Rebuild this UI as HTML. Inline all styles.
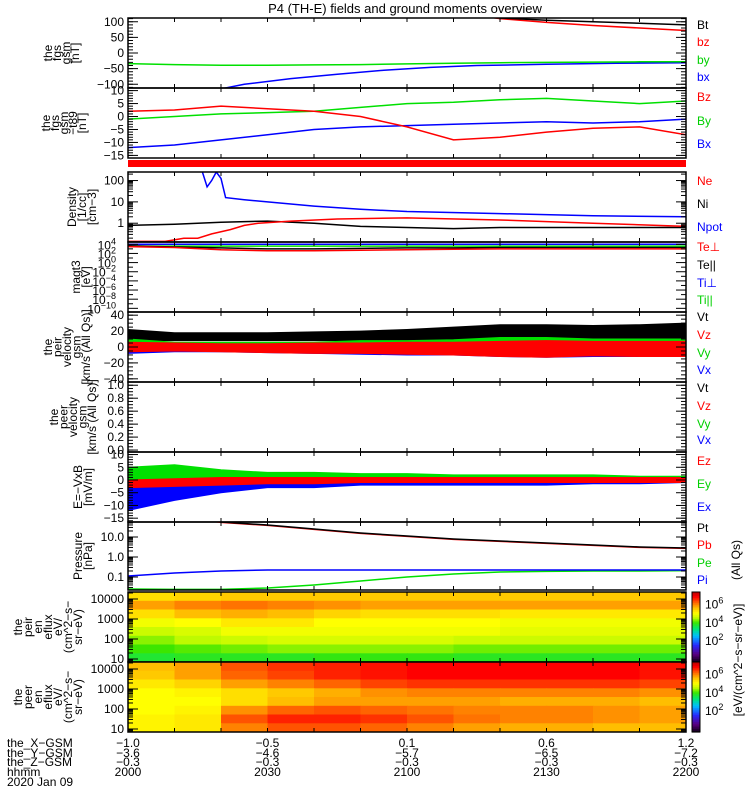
<!DOCTYPE html>
<html><head><meta charset="utf-8"><style>
body{margin:0;background:#fff}
svg{display:block;font-family:"Liberation Sans",sans-serif}
text{font-size:12px}
</style></head><body>
<svg id="chart" width="750" height="800" viewBox="0 0 750 800">
<rect x="0" y="0" width="750" height="800" fill="#fff"/>
<text x="405" y="13" text-anchor="middle" style="font-size:13px">P4 (TH-E) fields and ground moments overview</text>
<g id="layer"></g>
</svg>
<script>
// ---------- data ----------
const T10=[0,10,20,30,40,50,60,70,80,90,100,110,120];
// panel 1 fgs gsm
const bxT=[20,25,35,45,55,65,75,90,105,120];
const bxV=[-115,-100,-82,-68,-55,-46,-40,-36,-33,-31];
const byV=[-34,-37,-39,-39,-38,-37,-35,-33,-31,-30,-29,-28,-28];
const btT=[78,80,90,100,110,120];
const btV=[118,112,105,100,95,90];
const bzT=[76,80,90,100,110,120];
const bzV=[118,110,98,88,80,72];
// panel 2 fgs gsm - t89
const dBz=[2,2.5,4,3,2,0,-4,-9,-8,-6,-4.5,-4,-7];
const dBy=[-1,0,1,1.5,2,3.5,5,5.5,6.5,7,6,5,6];
const dBx=[-12,-11,-9,-7,-5,-4,-3.5,-3,-2.5,-2,-2.5,-2,-1];
// panel 4 density (log10)
const niV=[-0.1,-0.05,0.05,0.1,0,-0.15,-0.2,-0.25,-0.2,-0.2,-0.2,-0.2,-0.2];
const neT=[0,8,12,15,18,22,25,28,35,45,60,80,100,120];
const neV=[-0.85,-0.85,-0.7,-0.7,-0.5,-0.3,-0.1,0,0.1,0.2,0.25,0.15,0,-0.15];
const npT=[15,16,17,18,19,20,21,25,30,40,50,60,80,100,120];
const npV=[2.5,2.4,1.7,2.0,2.4,2.1,1.2,1.1,1.0,0.8,0.65,0.55,0.45,0.35,0.3];
// panel 5 temperatures (log10 eV)
const tePerp=[3.5,3.3,2.8,2.6,2.6,2.7,2.8,2.9,3.0,3.0,3.0,3.0,3.0];
const tePar=[3.7,3.4,3.2,3.0,3.0,3.1,3.2,3.2,3.3,3.3,3.3,3.3,3.3];
const tiPerp=[4.0,4.0,4.0,4.0,4.0,4.0,4.0,4.0,4.0,4.0,4.0,4.0,4.0];
const tiPar=[3.6,3.6,3.6,3.6,3.6,3.6,3.6,3.6,3.6,3.6,3.6,3.6,3.6];
// panel 6 peir velocity envelopes
const vtUp=[22,18,18,18,19,20,22,25,28,28,27,28,30], vtLo=[8,8,8,8,8,8,8,8,8,8,8,8,8];
const vxUp=[4,4,4,4,4,4,5,5,5,5,5,5,5], vxLo=[-8,-6,-6,-7,-8,-9,-10,-10,-12,-13,-12,-12,-12];
const vyUp=[10,6,6,6,6,8,8,9,12,12,10,10,10], vyLo=[-4,-4,-4,-5,-5,-5,-6,-6,-8,-8,-8,-8,-8];
const vzUp=[6,5,4,4,5,5,6,6,7,8,7,7,7], vzLo=[-6,-5,-6,-7,-8,-8,-9,-10,-12,-13,-11,-12,-12];
// panel 8 E = -VxB envelopes
const eyUp=[5,6,4,3,3,2.5,2.5,2,2,2,2,1.5,1.5], eyLo=[-1,-2,-1,-1,-1,-1,-1,-1,-1,-1,-1,-1,-1];
const exUp=[0,0,0,0,0,0.5,0.5,1,1,1,0.5,0.5,0.5], exLo=[-12,-8,-5,-3,-3,-2,-2,-2,-2,-2,-1.5,-1.5,-1];
const ezUp=[0,0.5,1,1,1,1,1,1,1,1,1,1,1], ezLo=[-3,-2.5,-2,-1.5,-1.5,-1,-1,-1,-1,-1,-1,-1,-1];
// panel 9 pressure (log10 nPa)
const ptT=[15,20,30,40,50,60,70,80,90,100,110,120];
const ptV=[1.9,1.75,1.6,1.4,1.2,1.05,0.9,0.8,0.7,0.6,0.5,0.45];
const pbV=[1.88,1.73,1.58,1.38,1.18,1.03,0.88,0.78,0.68,0.58,0.48,0.43];
const piV=[-0.95,-0.8,-0.7,-0.65,-0.65,-0.65,-0.65,-0.65,-0.65,-0.65,-0.65,-0.65,-0.65];
const peV=[-1.6,-1.62,-1.62,-1.55,-1.4,-1.2,-1.0,-0.85,-0.75,-0.72,-0.7,-0.7,-0.68];
// spectrograms: rows high energy -> low, 12 ten-minute columns, log10 eflux
const peirGrid=[
[5.3,5.4,5.5,5.5,5.5,5.5,5.5,5.5,5.5,5.5,5.5,5.5],
[5.8,6.0,6.1,6.0,5.9,5.8,5.8,5.8,5.8,5.8,5.8,5.8],
[5.3,5.6,5.7,5.6,5.4,5.3,5.3,5.3,5.2,5.2,5.2,5.2],
[4.9,5.0,5.2,5.2,5.0,5.0,5.0,5.0,4.9,4.9,4.9,4.9],
[4.6,4.7,4.9,4.9,4.9,4.9,4.9,4.9,4.8,4.8,4.8,4.8],
[4.3,4.5,4.6,4.7,4.7,4.7,4.7,4.6,4.6,4.6,4.6,4.6],
[4.0,4.1,4.2,4.3,4.3,4.3,4.3,4.2,4.2,4.2,4.2,4.2],
[3.7,3.8,3.8,3.8,3.9,3.9,3.9,3.8,3.8,3.8,3.8,3.8]];
const peerGrid=[
[5.6,5.8,6.3,6.5,6.6,6.7,6.8,6.8,6.8,6.8,6.8,6.7],
[5.5,5.8,6.2,6.4,6.6,6.7,6.8,6.8,6.8,6.8,6.8,6.7],
[5.2,5.4,5.8,6.0,6.2,6.4,6.5,6.5,6.5,6.5,6.5,6.4],
[5.0,5.1,5.3,5.5,5.7,5.9,6.0,6.0,6.0,6.0,6.0,5.9],
[5.0,5.0,5.3,5.6,5.8,5.8,5.8,5.8,5.7,5.7,5.7,5.6],
[5.0,5.1,5.9,6.2,6.3,6.2,6.1,6.0,6.0,6.0,5.9,5.8],
[5.1,5.2,6.3,6.6,6.6,6.5,6.3,6.1,6.0,6.0,5.9,5.8],
[5.1,5.2,6.0,6.3,6.3,6.2,6.0,5.8,5.7,5.7,5.6,5.6]];
// x-axis labels
const xTicks=[0,30,60,90,120];
const xRowX=["-1.0","-0.5","0.1","0.6","1.2"];
const xRowY=["-3.6","-4.6","-5.7","-6.5","-7.2"];
const xRowZ=["-0.3","-0.3","-0.3","-0.3","-0.3"];
const xRowH=["2000","2030","2100","2130","2200"];

// ---------- rendering ----------
const NS="http://www.w3.org/2000/svg";
const L=document.getElementById('layer');
const X0=128,X1=686;
const sx=t=>X0+t/120*(X1-X0);
function mk(tag,attrs,parent){const e=document.createElementNS(NS,tag);for(const k in attrs)e.setAttribute(k,attrs[k]);(parent||L).appendChild(e);return e;}
function txt(x,y,s,fill,anchor,parent,size){const e=mk('text',{x:x,y:y,fill:fill||'#000','text-anchor':anchor||'start'},parent);if(size)e.style.fontSize=size+'px';e.textContent=s;return e;}
let clipN=0;
function panel(name,y0,y1,d0,d1){
  const g=mk('g',{});
  
  
  const id='c'+(clipN++);
  const cp=mk('clipPath',{id:id},g);mk('rect',{x:X0,y:y0,width:X1-X0,height:y1-y0},cp);
  const plot=mk('g',{'clip-path':'url(#'+id+')'},g);
  const sy=v=>y1-(v-d0)/(d1-d0)*(y1-y0);
  return {g,plot,sy,y0,y1};
}
function frame(P){
  const r=mk('rect',{x:X0,y:P.y0,width:X1-X0,height:P.y1-P.y0,fill:'none',stroke:'#000','stroke-width':1.5},P.g);
  
  
  for(let t=10;t<120;t+=10){
    mk('line',{x1:sx(t),x2:sx(t),y1:P.y0,y2:P.y0+4,stroke:'#000'},P.g);
    mk('line',{x1:sx(t),x2:sx(t),y1:P.y1,y2:P.y1-4,stroke:'#000'},P.g);
  }
}
function yTicks(P,majors,labels,minors){
  majors.forEach((v,i)=>{const y=P.sy(v);
    mk('line',{x1:X0,x2:X0+10,y1:y,y2:y,stroke:'#000'},P.g);
    mk('line',{x1:X1,x2:X1-10,y1:y,y2:y,stroke:'#000'},P.g);
    const t=txt(X0-4,y+4,labels[i],'#000','end',P.g);
    
    
  });
  (minors||[]).forEach(v=>{const y=P.sy(v);if(y<P.y0||y>P.y1)return;
    mk('line',{x1:X0,x2:X0+5,y1:y,y2:y,stroke:'#000'},P.g);
    mk('line',{x1:X1,x2:X1-5,y1:y,y2:y,stroke:'#000'},P.g);});
}
function logMinors(a,b){const r=[];for(let d=a;d<b;d++)for(let k=2;k<10;k++)r.push(d+Math.log10(k));return r;}
function linMinors(a,b,s){const r=[];for(let v=a;v<=b+1e-9;v+=s)r.push(v);return r;}
function line(P,ts,vs,col,name){
  const pts=ts.map((t,i)=>sx(t).toFixed(1)+','+P.sy(vs[i]).toFixed(1)).join(' ');
  const e=mk('polyline',{points:pts,fill:'none',stroke:col,'stroke-width':1.5},P.plot);
  
  
}
function band(P,ts,up,lo,col,name){
  let pts=ts.map((t,i)=>sx(t).toFixed(1)+','+P.sy(up[i]).toFixed(1));
  for(let i=ts.length-1;i>=0;i--)pts.push(sx(ts[i]).toFixed(1)+','+P.sy(lo[i]).toFixed(1));
  const e=mk('polygon',{points:pts.join(' '),fill:col,stroke:col,'stroke-width':1},P.plot);
  
  
}
function ylabel(lines,x0,dx,yc,size){
  lines.forEach((s,i)=>{const x=x0+i*dx;
    const t=mk('text',{x:0,y:0,'text-anchor':'middle',transform:'translate('+x+','+yc+') rotate(-90)'});
    t.style.fontSize=(size||12)+'px';t.textContent=s;
    
    });
}
function legend(items){
  items.forEach(([s,c,y])=>{const t=txt(697,y+4,s,c,'start');
    
    });
}
// colormap
const cStops=[[-0.5,[0,0,0]],[0.5,[90,0,130]],[1.5,[40,40,255]],[2.5,[0,190,255]],[3.3,[0,230,120]],[4.0,[60,230,0]],[4.5,[190,250,0]],[5.0,[255,255,0]],[5.6,[255,190,0]],[6.2,[255,100,0]],[6.8,[255,0,0]],[7.4,[180,0,0]]];
function cmap(v){if(v<=cStops[0][0])return 'rgb(0,0,0)';
  for(let i=1;i<cStops.length;i++){if(v<=cStops[i][0]){const a=cStops[i-1],b=cStops[i],f=(v-a[0])/(b[0]-a[0]);
    return 'rgb('+a[1].map((c,k)=>Math.round(c+(b[1][k]-c)*f)).join(',')+')';}}
  return 'rgb(180,0,0)';}

// Panel 1
let P=panel('panel-fgs-gsm',18,88,-112,112);
line(P,bxT,bxV,'#0000ff','series-bx');
line(P,T10,byV,'#00e000','series-by');
line(P,bzT,bzV,'#ff0000','series-bz');
line(P,btT,btV,'#000','series-bt');
frame(P);yTicks(P,[100,50,0,-50,-100],['100','50','0','\u221250','\u2212100'],linMinors(-110,110,10));
ylabel(['the','fgs','gsm','[nT]'],52,9,53,12);
legend([['Bt','#000',25],['bz','#ff0000',42],['by','#00d000',60],['bx','#0000ff',77]]);

// Panel 2
P=panel('panel-fgs-gsm-t89',88,158,-16,11);
line(P,T10,dBx,'#0000ff','series-dbx');
line(P,T10,dBy,'#00e000','series-dby');
line(P,T10,dBz,'#ff0000','series-dbz');
frame(P);yTicks(P,[10,5,0,-5,-10,-15],['10','5','0','\u22125','\u221210','\u221215'],linMinors(-16,11,1));
ylabel(['the','fgs','gsm','\u2212t89','[nT]'],50,9,123,12);
legend([['Bz','#ff0000',97],['By','#00d000',121],['Bx','#0000ff',144]]);

// red bar
{const e=mk('rect',{x:X0,y:160,width:X1-X0,height:7,fill:'#ff0000'});

}

// Panel 4 density
P=panel('panel-density',172,242,-0.88,2.4);
line(P,T10,niV,'#000','series-ni');
line(P,neT,neV,'#ff0000','series-ne');
line(P,npT,npV,'#0000ff','series-npot');
frame(P);yTicks(P,[2,1,0],['100','10','1'],logMinors(-1,2.4));
ylabel(['Density','[1/cc]','[cm\u22123]'],76,10,207,12);
legend([['Ne','#ff0000',181],['Ni','#000',204],['Npot','#0000ff',227]]);

// Panel 5 temperature
P=panel('panel-temperature',242,312,-10.8,4.5);
line(P,T10,tiPar,'#00e000','series-ti-par');
line(P,T10,tiPerp,'#0000ff','series-ti-perp');
line(P,T10,tePar,'#000','series-te-par');
line(P,T10,tePerp,'#ff0000','series-te-perp');
frame(P);
[4,2,0,-2,-4,-6,-8,-10].forEach(v=>{const y=P.sy(v);
  mk('line',{x1:X0,x2:X0+10,y1:y,y2:y,stroke:'#000'},P.g);mk('line',{x1:X1,x2:X1-10,y1:y,y2:y,stroke:'#000'},P.g);
  const t=mk('text',{x:X0-12,y:y+5,'text-anchor':'end'},P.g);t.innerHTML='10<tspan dy="-5" style="font-size:9px">'+(v<0?'\u2212'+(-v):v)+'</tspan>';
  
  });
[3,1,-1,-3,-5,-7,-9].forEach(v=>{const y=P.sy(v);mk('line',{x1:X0,x2:X0+5,y1:y,y2:y,stroke:'#000'},P.g);mk('line',{x1:X1,x2:X1-5,y1:y,y2:y,stroke:'#000'},P.g);});
ylabel(['magt3','[eV]'],80,10,277,12);
legend([['Te\u22a5','#ff0000',247],['Te||','#000',265],['Ti\u22a5','#0000ff',283],['Ti||','#00d000',300]]);

// Panel 6 peir velocity
P=panel('panel-peir-velocity',312,382,-44,44);
band(P,T10,vtUp,vtLo,'#000','series-vt');
band(P,T10,vxUp,vxLo,'#0000ff','series-vx');
band(P,T10,vyUp,vyLo,'#00e000','series-vy');
band(P,T10,vzUp,vzLo,'#ff0000','series-vz');
frame(P);yTicks(P,[40,20,0,-20,-40],['40','20','0','\u221220','\u221240'],linMinors(-40,40,5));
ylabel(['the','peir','velocity','gsm','[km/s (All Qs)]'],52,9.5,347,12);
legend([['Vt','#000',317],['Vz','#ff0000',335],['Vy','#00d000',353],['Vx','#0000ff',370]]);

// Panel 7 peer velocity (empty)
P=panel('panel-peer-velocity',382,452,-0.03,1.05);
frame(P);yTicks(P,[1,0.8,0.6,0.4,0.2,0],['1.0','0.8','0.6','0.4','0.2','0.0'],linMinors(0,1,0.05));
ylabel(['the','peer','velocity','gsm','[km/s (All Qs)]'],58,9.5,417,12);
legend([['Vt','#000',388],['Vz','#ff0000',406],['Vy','#00d000',424],['Vx','#0000ff',440]]);

// Panel 8 E field
P=panel('panel-e-field',452,522,-16.5,11);
band(P,T10,exUp,exLo,'#0000ff','series-ex');
band(P,T10,eyUp,eyLo,'#00e000','series-ey');
band(P,T10,ezUp,ezLo,'#ff0000','series-ez');
frame(P);yTicks(P,[10,5,0,-5,-10,-15],['10','5','0','\u22125','\u221210','\u221215'],linMinors(-16,11,1));
ylabel(['E=\u2212VxB','[mV/m]'],82,10,487,12);
legend([['Ez','#ff0000',461],['Ey','#00d000',484],['Ex','#0000ff',507]]);

// Panel 9 pressure
P=panel('panel-pressure',522,590,-1.65,1.75);
line(P,T10,peV,'#00e000','series-pe');
line(P,T10,piV,'#0000ff','series-pi');
line(P,ptT,pbV,'#ff0000','series-pb');
line(P,ptT,ptV,'#000','series-pt');
frame(P);yTicks(P,[1,0,-1],['10.0','1.0','0.1'],logMinors(-2,2));
ylabel(['Pressure','[nPa]'],82,10,556,12);
legend([['Pt','#000',528],['Pb','#ff0000',545],['Pe','#00d000',563],['Pi','#0000ff',580]]);
{const t=mk('text',{x:0,y:0,'text-anchor':'middle',transform:'translate(740,560) rotate(-90)'});t.textContent='(All Qs)';

}

// Spectrograms
function spec(name,y0,y1,grid,labelLines){
  const P=panel(name,y0,y1,0.85,4.35);
  const rows=grid.length,cols=grid[0].length,dE=(4.35-0.85)/rows;
  grid.forEach((row,r)=>row.forEach((v,c)=>{
    const eTop=4.35-r*dE;
    const x=sx(c*10),w=sx((c+1)*10)-x,y=P.sy(eTop),h=P.sy(eTop-dE)-y;
    const e=mk('rect',{x:x.toFixed(1),y:y.toFixed(1),width:(w+0.6).toFixed(1),height:(h+0.6).toFixed(1),fill:cmap(v)},P.plot);
    
    
  }));
  frame(P);yTicks(P,[4,3,2,1],['10000','1000','100','10'],logMinors(0,5));
  ylabel(labelLines,22,10,y0+35,12);
  const cb=mk('g',{});
  
  
  const n=40;for(let i=0;i<n;i++){const v=-0.3+(7.4+0.3)*i/n;const yy=y1-(i+1)*(y1-y0)/n;
    mk('rect',{x:692,y:yy.toFixed(1),width:8,height:((y1-y0)/n+0.5).toFixed(1),fill:cmap(v)},cb);}
  mk('rect',{x:692,y:y0,width:8,height:y1-y0,fill:'none',stroke:'#000'},cb);
  [2,4,6].forEach(v=>{const yy=y1-(v+0.3)/7.7*(y1-y0);
    const t=mk('text',{x:705,y:yy+4},cb);t.innerHTML='10<tspan dy="-5" style="font-size:9px">'+v+'</tspan>';});
}
spec('panel-peir-spectrogram',592,662,peirGrid,['the','peir','en','eflux','eV/','(cm^2\u2212s\u2212','sr\u2212eV)']);
spec('panel-peer-spectrogram',662,732,peerGrid,['the','peer','en','eflux','eV/','(cm^2\u2212s\u2212','sr\u2212eV)']);
{const t=mk('text',{x:0,y:0,'text-anchor':'middle',transform:'translate(742,660) rotate(-90)'});t.textContent='[eV/(cm^2\u2212s\u2212sr\u2212eV)]';

}

// bottom labels
const rowsY=[747,757,766,776];
[['the_X\u2212GSM',xRowX],['the_Y\u2212GSM',xRowY],['the_Z\u2212GSM',xRowZ],['hhmm',xRowH]].forEach(([lab,vals],r)=>{
  const t=txt(7,rowsY[r],lab,'#000','start');
  
  
  vals.forEach((s,i)=>{const e=txt(sx(xTicks[i]),rowsY[r],s.replace('-','\u2212'),'#000','middle');
    
    });
});
{const t=txt(7,786,'2020 Jan 09','#000','start');

}
</script>
</body></html>
